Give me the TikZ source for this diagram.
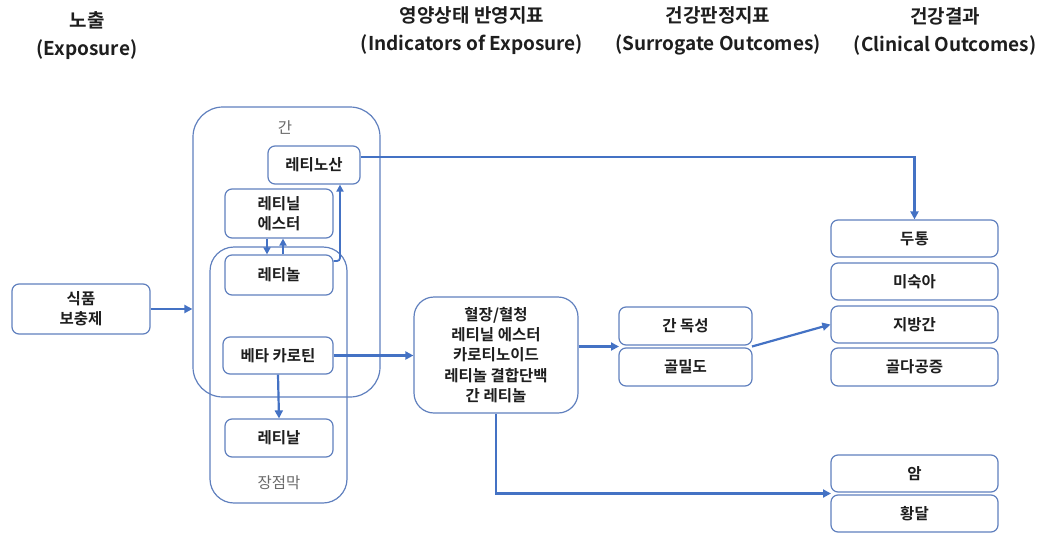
\documentclass[tikz,border=0pt]{standalone}
\usepackage{fontspec}
\setmainfont{Noto Sans CJK KR}[BoldFont={Noto Sans CJK KR Bold}]
\usetikzlibrary{arrows.meta}
\definecolor{boxline}{RGB}{96,128,190}
\definecolor{flow}{RGB}{68,114,196}
\definecolor{ink}{RGB}{30,30,30}
\definecolor{zonetext}{RGB}{105,105,105}
\begin{document}
\begin{tikzpicture}[x=1pt,y=-1pt,
  box/.style={draw=boxline,line width=1.2pt,rounded corners=7pt,fill=white,
    align=center,font=\fontsize{15.5}{20.3}\selectfont\bfseries,text=ink,inner sep=0pt},
  zone/.style={draw=boxline,line width=1.2pt,inner sep=0pt},
  flowline/.style={draw=flow,line width=2.2pt,-{Triangle[length=8pt,width=8pt]}},
  thinflow/.style={draw=flow,line width=1.8pt,-{Triangle[length=7pt,width=7pt]}},
  head/.style={font=\fontsize{19}{28}\selectfont\bfseries,align=center,text=ink},
  zonelabel/.style={font=\fontsize{15.5}{17}\selectfont,text=zonetext}]
\useasboundingbox (0,0) rectangle (1050,536);

% column headings
\node[head] (h1) at (87,36) {노출\\(Exposure)};
\node[head] (h2) at (472,31) {영양상태 반영지표\\(Indicators of Exposure)};
\node[head] (h3) at (718,31) {건강판정지표\\(Surrogate Outcomes)};
\node[head] (h4) at (945,31) {건강결과\\(Clinical Outcomes)};

% organ compartments
\node[zone,rounded corners=30pt,minimum width=187pt,minimum height=290pt] (liver) at (286.5,252) {};
\node[zone,rounded corners=24pt,minimum width=137pt,minimum height=256pt] (gut) at (278.5,375) {};
\node[zonelabel] (liverlbl) at (285,128) {간};
\node[zonelabel] (gutlbl) at (279,483) {장점막};

% intake
\node[box,minimum width=138pt,minimum height=50pt] (food) at (81,309) {식품\\보충제};

% metabolites
\node[box,minimum width=92pt,minimum height=38pt] (acid) at (314,165) {레티노산};
\node[box,minimum width=108pt,minimum height=49pt] (ester) at (279,213.5) {레티닐\\에스터};
\node[box,minimum width=108pt,minimum height=40pt] (retinol) at (279,275) {레티놀};
\node[box,minimum width=110pt,minimum height=37pt] (beta) at (278,355.5) {베타 카로틴};
\node[box,minimum width=108pt,minimum height=38pt] (retinal) at (279,438) {레티날};

% indicators of exposure
\node[box,rounded corners=20pt,minimum width=164pt,minimum height=116pt] (mid) at (496,355)
  {혈장/혈청\\레티닐 에스터\\카로티노이드\\레티놀 결합단백\\간 레티놀};

% surrogate outcomes
\node[box,minimum width=133pt,minimum height=38pt] (hepatox) at (685.5,326) {간 독성};
\node[box,minimum width=133pt,minimum height=38pt] (bmd) at (685.5,367) {골밀도};

% clinical outcomes
\node[box,minimum width=167pt,minimum height=37pt] (headache) at (914.5,238.5) {두통};
\node[box,minimum width=167pt,minimum height=37pt] (preterm) at (914.5,281.5) {미숙아};
\node[box,minimum width=167pt,minimum height=37pt] (fatty) at (914.5,324.5) {지방간};
\node[box,minimum width=167pt,minimum height=38pt] (osteo) at (914.5,367) {골다공증};
\node[box,minimum width=167pt,minimum height=37pt] (cancer) at (914.5,473.5) {암};
\node[box,minimum width=167pt,minimum height=37pt] (jaundice) at (914.5,513.5) {황달};

% junction points between stacked boxes
\coordinate (surL) at (619,346.5);
\coordinate (surR) at (752,346.5);
\coordinate (clin) at (831,493.5);

% flows
\draw[flowline] (food.east) -- (food.east -| liver.west);
\draw[thinflow] ([xshift=-12pt]ester.south) -- ([xshift=-12pt]ester.south |- retinol.north);
\draw[thinflow] ([xshift=4pt]retinol.north) -- ([xshift=4pt]retinol.north |- ester.south);
\draw[thinflow,rounded corners=3pt] ([yshift=14pt]retinol.east) -| ([xshift=26pt]acid.south);
\draw[flowline] ([yshift=8pt]acid.east) -| (headache.north);
\draw[flowline] (beta.east) -- (beta.east -| mid.west);
\draw[flowline] (beta.south) -- (retinal.north);
\draw[flowline] (mid.east |- surL) -- (surL);
\draw[flowline] (surR) -- (fatty.west);
\draw[flowline] (mid.south) |- (clin);
\end{tikzpicture}
\end{document}
